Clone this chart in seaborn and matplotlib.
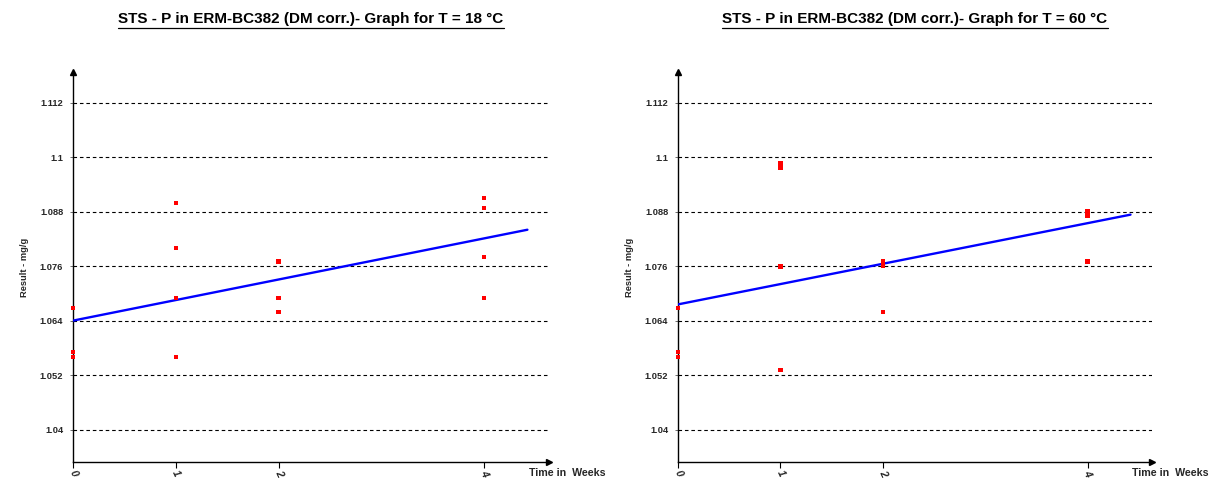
import numpy as np
import pandas as pd
import matplotlib
matplotlib.use("Agg")
import matplotlib.pyplot as plt
from matplotlib.lines import Line2D
import seaborn as sns

# Stability study results (mg/g) per storage time (weeks)
weeks_18 = [0, 0, 0, 1, 1, 1, 1, 2, 2, 2, 4, 4, 4, 4]
result_18 = [1.0669, 1.0572, 1.0561,
             1.0900, 1.0800, 1.0691, 1.0561,
             1.0771, 1.0691, 1.0660,
             1.0910, 1.0889, 1.0781, 1.0691]

weeks_60 = [0, 0, 0, 1, 1, 1, 1, 2, 2, 2, 4, 4, 4]
result_60 = [1.0669, 1.0571, 1.0561,
             1.0988, 1.0978, 1.0760, 1.0532,
             1.0772, 1.0762, 1.0660,
             1.0881, 1.0872, 1.0771]

temperatures = ["18", "60"]
y_ticks = [1.04, 1.052, 1.064, 1.076, 1.088, 1.1, 1.112]
y_tick_labels = ["1.04", "1.052", "1.064", "1.076", "1.088", "1.1", "1.112"]
x_ticks = [0, 1, 2, 4]
x_tick_labels = ["0", "1", "2", "4"]

sns.set_theme(style="white")
plt.rcParams["font.family"] = ["Liberation Sans", "DejaVu Sans"]

W, H = 1222, 480
fig = plt.figure(figsize=(W / 100, H / 100), dpi=100)


def px_axes(left, top, right, bottom):
    return fig.add_axes([left / W, 1 - bottom / H, (right - left) / W, (bottom - top) / H])


ax_left = px_axes(73, 72, 549, 462)
ax_right = px_axes(678, 72, 1152, 462)

titles = []
for ax, weeks, results, temp in [(ax_left, weeks_18, result_18, temperatures[0]),
                                 (ax_right, weeks_60, result_60, temperatures[1])]:
    df = pd.DataFrame({"week": weeks, "result": results})

    # least-squares trend line
    slope, intercept = np.polyfit(df["week"], df["result"], 1)
    fit_x = np.array([0.0, 4.42])
    fit = pd.DataFrame({"week": fit_x, "result": intercept + slope * fit_x})

    for yt in y_ticks:
        ax.axhline(yt, color="black", lw=0.8, ls=(0, (3.2, 2.6)), zorder=1)

    sns.lineplot(data=fit, x="week", y="result", color="#0000ff", lw=1.7,
                 ax=ax, zorder=3)
    sns.scatterplot(data=df, x="week", y="result", marker="s", s=10,
                    color="#ff0000", edgecolor="none", linewidth=0, ax=ax,
                    zorder=4, clip_on=False)

    ax.set_xlim(0, 4.63)
    ax.set_ylim(1.03295, 1.1188)

    for side in ["top", "right"]:
        ax.spines[side].set_visible(False)
    for side in ["left", "bottom"]:
        ax.spines[side].set_color("black")
        ax.spines[side].set_linewidth(1.0)

    # arrow heads on the axis ends
    ax.plot(0, 1, marker="^", ms=4, color="black", transform=ax.transAxes,
            clip_on=False, zorder=5)
    ax.plot(1, 0, marker=">", ms=4, color="black", transform=ax.transAxes,
            clip_on=False, zorder=5)

    ax.set_yticks(y_ticks)
    ax.set_yticklabels(y_tick_labels, fontsize=6.7, fontweight="bold")
    ax.set_xticks(x_ticks)
    ax.set_xticklabels(x_tick_labels, fontsize=7.5, fontweight="bold",
                       fontstyle="italic", rotation=-65, ha="center",
                       rotation_mode="anchor")
    ax.tick_params(axis="y", left=True, length=2, width=0.6, color="#555555", pad=5)
    ax.tick_params(axis="x", bottom=True, length=4, width=0.8, color="black", pad=4)
    for lbl in ax.get_xticklabels():
        lbl.set_va("center")

    ax.set_xlabel("")
    ax.set_ylabel("Result - mg/g", fontsize=6.7, fontweight="bold")
    ax.yaxis.set_label_coords(-0.092, 0.5)
    ax.text(0.957, -0.028, "Time in  Weeks", transform=ax.transAxes,
            fontsize=7.7, fontweight="bold", ha="left", va="center")

    pos = ax.get_position()
    t = fig.text(pos.x0 + pos.width / 2, 1 - 19 / H,
                 f"STS - P in ERM-BC382 (DM corr.)- Graph for T = {temp} °C",
                 fontsize=11, fontweight="bold", ha="center", va="center",
                 color="black")
    titles.append(t)

# underline the titles
fig.canvas.draw()
renderer = fig.canvas.get_renderer()
for t in titles:
    bb = t.get_window_extent(renderer)
    y = (bb.y0 - 2) / H
    fig.add_artist(Line2D([bb.x0 / W, bb.x1 / W], [y, y], color="black",
                          lw=0.9, transform=fig.transFigure))

fig.savefig("out.png", dpi=100)
